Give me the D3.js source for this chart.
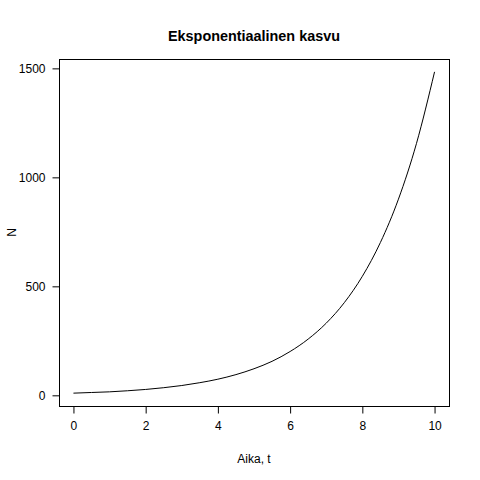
<!DOCTYPE html>
<html>
<head>
<meta charset="utf-8">
<script src="https://cdn.jsdelivr.net/npm/d3@7"></script>
<style>
  body { margin: 0; background: #fff; }
  text { font-family: "Liberation Sans", Arial, Helvetica, sans-serif; fill: #000; }
</style>
</head>
<body>
<div id="viz"></div>
<script>
// values
var times = [0, 0.5, 1, 1.5, 2, 2.5, 3, 3.5, 4, 4.5, 5, 5.5, 6, 6.5, 7, 7.5, 8, 8.5, 9, 9.5, 10];
var counts = [10, 13, 16, 21, 27, 35, 45, 58, 74, 95, 122, 156, 201, 258, 331, 425, 546, 701, 900, 1156, 1484];
var xTicks = [0, 2, 4, 6, 8, 10];
var yTicks = [0, 500, 1000, 1500];

var W = 480, H = 480;
var box = {left: 59, right: 449, top: 59, bottom: 406};

var svg = d3.select("#viz")
    .append("svg")
    .attr("width", W)
    .attr("height", H);

var x = d3.scaleLinear().domain([-0.4, 10.4]).range([box.left, box.right]);
var y = d3.scaleLinear().domain([-48.96, 1542.96]).range([box.bottom, box.top]);

svg.append("rect")
    .attr("x", box.left + 0.5)
    .attr("y", box.top + 0.5)
    .attr("width", box.right - box.left)
    .attr("height", box.bottom - box.top)
    .style("fill", "none")
    .style("stroke", "#000");

var line = d3.line()
    .x(function(d, i) { return x(times[i]); })
    .y(function(d) { return y(d); })
    .curve(d3.curveMonotoneX);

svg.append("path")
    .datum(counts)
    .attr("d", line)
    .style("fill", "none")
    .style("stroke", "#000")
    .style("stroke-width", 1);

var xAxis = svg.append("g")
    .attr("transform", "translate(0," + (box.bottom + 0.5) + ")")
    .call(d3.axisBottom(x).tickValues(xTicks).tickSize(7).tickPadding(8).tickFormat(d3.format("d")));
xAxis.select(".domain")
    .attr("d", "M" + x(0) + ",0H" + x(10));

var yAxis = svg.append("g")
    .attr("transform", "translate(" + (box.left + 0.5) + ",0)")
    .call(d3.axisLeft(y).tickValues(yTicks).tickSize(7).tickPadding(7).tickFormat(d3.format("d")));
yAxis.select(".domain")
    .attr("d", "M0," + y(0) + "V" + y(1500));

svg.selectAll(".tick text")
    .style("font-size", "12px")
    .attr("fill", "#000");
svg.selectAll(".tick line, .domain")
    .attr("stroke", "#000");

svg.append("text")
    .attr("x", (box.left + box.right) / 2)
    .attr("y", 41)
    .attr("text-anchor", "middle")
    .style("font-size", "14.4px")
    .style("font-weight", "bold")
    .text("Eksponentiaalinen kasvu");

svg.append("text")
    .attr("x", (box.left + box.right) / 2)
    .attr("y", 463)
    .attr("text-anchor", "middle")
    .style("font-size", "12px")
    .text("Aika, t");

svg.append("text")
    .attr("transform", "translate(16," + ((box.top + box.bottom) / 2) + ") rotate(-90)")
    .attr("text-anchor", "middle")
    .style("font-size", "12px")
    .text("N");
</script>
</body>
</html>
